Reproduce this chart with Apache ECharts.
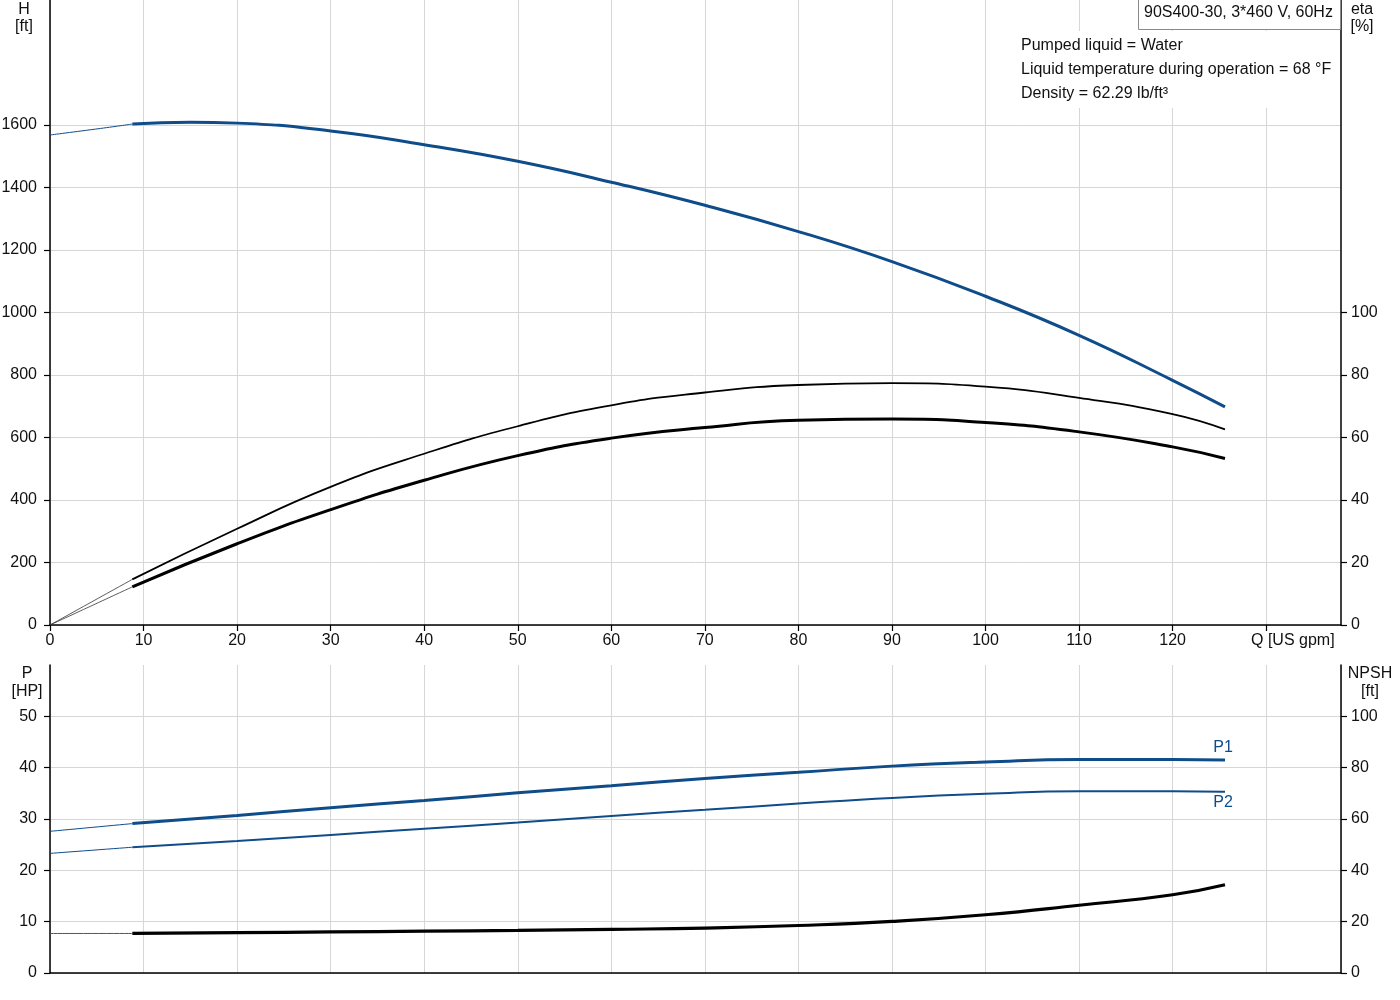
<!DOCTYPE html>
<html>
<head>
<meta charset="utf-8">
<script src="https://cdn.jsdelivr.net/npm/echarts@6/dist/echarts.min.js"></script>
<style>
html,body{margin:0;padding:0;background:#fff;}
#c{width:1400px;height:1000px;}
</style>
</head>
<body>
<div id="c"></div>
<script>
// ---- data ----
const qMain = [8.8, 20, 30, 40, 50, 60, 70, 80, 90, 100, 110, 120, 125.6];
const qHead = [8.8, 15, 20, 30, 40, 50, 60, 70, 80, 90, 100, 110, 120, 125.6];
const headFt = [1603, 1609, 1606, 1581, 1537, 1484, 1417, 1343, 1259, 1163, 1052, 927, 783, 698];
const qHeadExt = [0, 5.4, 8.8];
const headExt = [1568, 1589, 1603];
const etaPump = [14.6, 30.8, 44.2, 54.8, 63.6, 70.3, 74.4, 76.8, 77.4, 76.3, 72.7, 67.5, 62.6];
const etaTotal = [12.2, 26.0, 36.9, 46.3, 54.2, 59.8, 63.2, 65.5, 65.9, 64.8, 61.8, 57.0, 53.3];
const p1HP = [29.1, 30.7, 32.2, 33.6, 35.1, 36.5, 37.9, 39.1, 40.3, 41.1, 41.6, 41.6, 41.5];
const p2HP = [24.5, 25.7, 26.9, 28.1, 29.3, 30.6, 31.8, 33.0, 34.1, 34.9, 35.4, 35.4, 35.3];
const npshFt = [15.4, 15.7, 16.0, 16.3, 16.6, 17.0, 17.5, 18.5, 20.1, 22.7, 26.4, 30.5, 34.4];
const qExtStart = [0, 8.8];
const etaPumpExt = [0, 14.6];
const etaTotalExt = [0, 12.2];
const p1Ext = [27.6, 29.1];
const p2Ext = [23.3, 24.5];
const npshExt = [15.4, 15.4];
const qTickLabels = [0, 10, 20, 30, 40, 50, 60, 70, 80, 90, 100, 110, 120];
const qTicks = [0, 10, 20, 30, 40, 50, 60, 70, 80, 90, 100, 110, 120, 130];
const hTicks = [0, 200, 400, 600, 800, 1000, 1200, 1400, 1600];
const etaTicks = [0, 20, 40, 60, 80, 100];
const pTicks = [0, 10, 20, 30, 40, 50];
const npshTicks = [0, 20, 40, 60, 80, 100];
const titleText = '90S400-30, 3*460 V, 60Hz';
const infoLines = ['Pumped liquid = Water', 'Liquid temperature during operation = 68 °F', 'Density = 62.29 lb/ft³'];

const zip = (xs, ys) => xs.map((x, i) => [x, ys[i]]);
const FONT = "'Liberation Sans', Arial, sans-serif";
const FS = 16;
const BLUE = '#0f4c8a';
const GRID = '#d6d6d6';
const TXT = '#111';
const plain = v => String(v);

function lbl(margin, values) {
  return { color: TXT, fontSize: FS, fontFamily: FONT, margin, customValues: values, formatter: plain, hideOverlap: false };
}
function tick(values) {
  return { show: true, length: 6, lineStyle: { color: '#000', width: 1.2 }, customValues: values };
}
function valAxis(opts) {
  return Object.assign({
    type: 'value',
    axisLine: { show: true, onZero: false, lineStyle: { color: '#000', width: 1.5 } },
    splitLine: { show: true, lineStyle: { color: GRID, width: 1 } }
  }, opts);
}

const chart = echarts.init(document.getElementById('c'), null, { renderer: 'canvas' });

const lineS = (name, x, y, data, color, width, z) => ({
  name, type: 'line', xAxisIndex: x, yAxisIndex: y, data,
  smooth: 0.5, showSymbol: false, symbol: 'none', silent: true,
  lineStyle: { color, width }, z: z || 3
});

const txt = (x, y, text, align, fill) => ({
  type: 'text', z: 53, x, y,
  style: { text, fill: fill || TXT, font: FS + 'px ' + FONT, align: align || 'center', verticalAlign: 'middle' }
});

const option = {
  animation: false,
  backgroundColor: '#fff',
  grid: [
    { left: 50, right: 59, top: 0, height: 625, containLabel: false, outerBoundsMode: 'none' },
    { left: 50, right: 59, top: 665, height: 308, containLabel: false, outerBoundsMode: 'none' }
  ],
  xAxis: [
    valAxis({ gridIndex: 0, min: 0, max: 138, interval: 10,
      axisLabel: lbl(8, qTickLabels), axisTick: tick(qTicks) }),
    valAxis({ gridIndex: 1, min: 0, max: 138, interval: 10,
      axisLabel: { show: false }, axisTick: { show: false } })
  ],
  yAxis: [
    valAxis({ gridIndex: 0, min: 0, max: 2000, interval: 200, position: 'left',
      axisLabel: lbl(13, hTicks), axisTick: tick(hTicks) }),
    valAxis({ gridIndex: 0, min: 0, max: 200, interval: 20, position: 'right', splitLine: { show: false },
      axisLabel: lbl(10, etaTicks), axisTick: tick(etaTicks) }),
    valAxis({ gridIndex: 1, min: 0, max: 60, interval: 10, position: 'left',
      axisLabel: lbl(13, pTicks), axisTick: tick(pTicks) }),
    valAxis({ gridIndex: 1, min: 0, max: 120, interval: 20, position: 'right', splitLine: { show: false },
      axisLabel: lbl(10, npshTicks), axisTick: tick(npshTicks) })
  ],
  series: [
    lineS('H ext', 0, 0, zip(qHeadExt, headExt), BLUE, 1),
    lineS('H', 0, 0, zip(qHead, headFt), BLUE, 3, 4),
    lineS('eta pump ext', 0, 1, zip(qExtStart, etaPumpExt), '#333', 0.8),
    lineS('eta total ext', 0, 1, zip(qExtStart, etaTotalExt), '#333', 0.8),
    lineS('eta pump', 0, 1, zip(qMain, etaPump), '#000', 1.8, 4),
    lineS('eta total', 0, 1, zip(qMain, etaTotal), '#000', 3, 4),
    lineS('P1 ext', 1, 2, zip(qExtStart, p1Ext), BLUE, 1),
    lineS('P2 ext', 1, 2, zip(qExtStart, p2Ext), BLUE, 1),
    lineS('NPSH ext', 1, 3, zip(qExtStart, npshExt), '#555', 1),
    lineS('P1', 1, 2, zip(qMain, p1HP), BLUE, 3, 4),
    lineS('P2', 1, 2, zip(qMain, p2HP), BLUE, 2, 4),
    lineS('NPSH', 1, 3, zip(qMain, npshFt), '#000', 3.2, 4)
  ],
  graphic: [
    { type: 'rect', z: 50, shape: { x: 1013, y: 31, width: 327, height: 77 }, style: { fill: '#fff' } },
    txt(1021, 46, infoLines[0], 'left'),
    txt(1021, 70, infoLines[1], 'left'),
    txt(1021, 94, infoLines[2], 'left'),
    { type: 'rect', z: 52, shape: { x: 1138.5, y: -1, width: 202, height: 30.5 }, style: { fill: '#fff', stroke: '#8a8a8a', lineWidth: 1 } },
    txt(1144, 13, titleText, 'left'),
    txt(24, 10, 'H'), txt(24, 27, '[ft]'),
    txt(1362, 10, 'eta'), txt(1362, 27, '[%]'),
    txt(27, 674, 'P'), txt(27, 692, '[HP]'),
    txt(1370, 674, 'NPSH'), txt(1370, 692, '[ft]'),
    txt(1251, 641, 'Q [US gpm]', 'left'),
    txt(1223, 748, 'P1', 'center', BLUE),
    txt(1223, 803, 'P2', 'center', BLUE)
  ]
};
chart.setOption(option);
</script>
</body>
</html>
